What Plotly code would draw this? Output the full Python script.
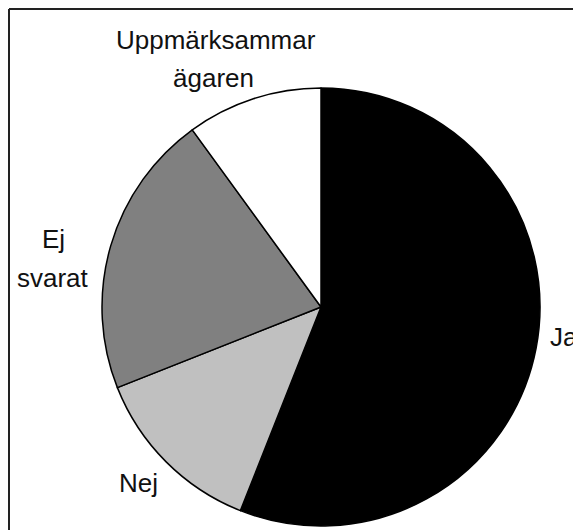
import plotly.graph_objects as go

# Data
categories = ["Ja", "Nej", "Ej svarat", "Uppmärksammar ägaren"]
values = [56, 13, 21, 10]

# Styles
slice_colors = ["#000000", "#C0C0C0", "#808080", "#FFFFFF"]

# The page body has an 8px margin, so the figure is made 8px smaller on
# each side and every placement below is given in window pixels, shifted.
OFF = 8
W, H = 581 - OFF, 530 - OFF
cx, cy, r = 321 - OFF, 307 - OFF, 219  # pixel geometry of the pie

fig = go.Figure(go.Pie(
    labels=categories,
    values=values,
    sort=False,
    direction="clockwise",
    rotation=0,
    textinfo="none",
    hoverinfo="label+value+percent",
    marker=dict(colors=slice_colors, line=dict(color="#000000", width=1.5)),
    domain=dict(x=[(cx - r) / W, (cx + r) / W],
                y=[(H - cy - r) / H, (H - cy + r) / H]),
    showlegend=False,
))

# label line placements (window x, anchor, window baseline y) per category line
FS = 26
label_pos = {
    "Ja": [(580, "right", 346)],
    "Nej": [(138, "center", 492)],
    "Ej svarat": [(53, "center", 248), (53, "center", 287)],
    "Uppmärksammar ägaren": [(216, "center", 49), (213, "center", 87)],
}

annotations = []
for cat in categories:
    words = cat.split(" ")
    for word, (px, xa, base) in zip(words, label_pos[cat]):
        annotations.append(dict(
            text=word, x=(px - OFF) / W, y=1 - (base - OFF - 0.36 * FS) / H,
            xref="paper", yref="paper", xanchor=xa, yanchor="middle",
            showarrow=False,
            font=dict(family="Liberation Sans, Arial, sans-serif", size=FS, color="#111111"),
        ))

shapes = [
    dict(type="line", xref="paper", yref="paper",
         x0=1 / W, x1=1, y0=1 - 1 / H, y1=1 - 1 / H,
         line=dict(color="#222222", width=2)),
    dict(type="line", xref="paper", yref="paper",
         x0=1 / W, x1=1 / W, y0=0, y1=1 - 1 / H,
         line=dict(color="#222222", width=2)),
]

fig.update_layout(
    width=W, height=H,
    margin=dict(l=0, r=0, t=0, b=0),
    paper_bgcolor="#FFFFFF",
    plot_bgcolor="#FFFFFF",
    annotations=annotations,
    shapes=shapes,
)

fig.write_html("out.html")
